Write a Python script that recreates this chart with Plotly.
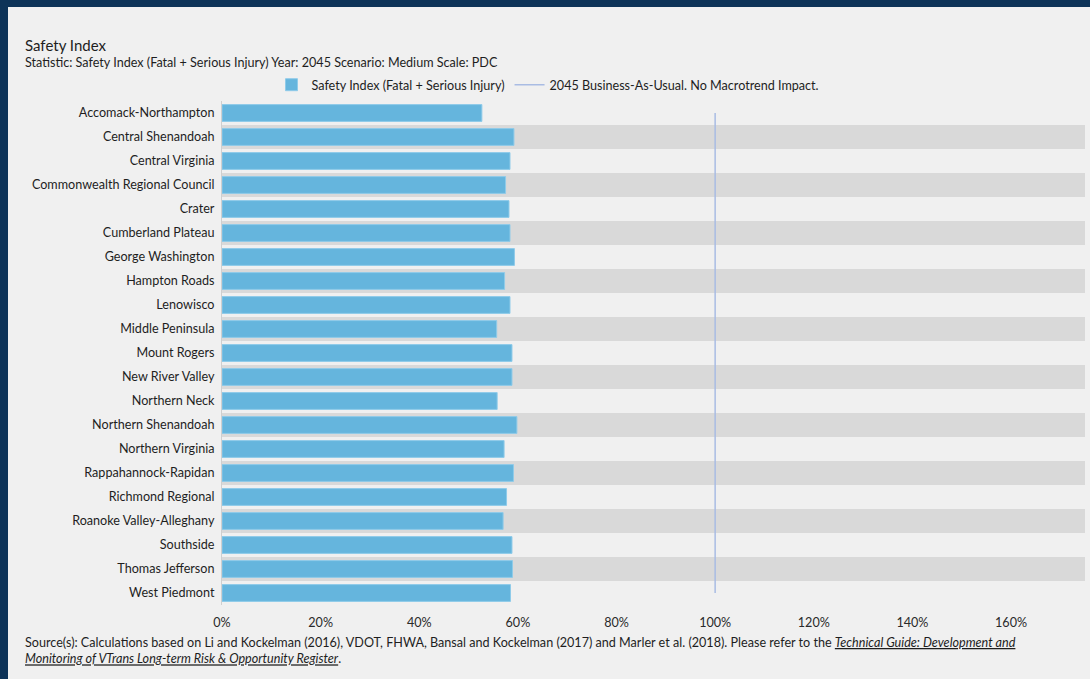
import plotly.graph_objects as go

regions = [
    "Accomack-Northampton", "Central Shenandoah", "Central Virginia",
    "Commonwealth Regional Council", "Crater", "Cumberland Plateau",
    "George Washington", "Hampton Roads", "Lenowisco", "Middle Peninsula",
    "Mount Rogers", "New River Valley", "Northern Neck", "Northern Shenandoah",
    "Northern Virginia", "Rappahannock-Rapidan", "Richmond Regional",
    "Roanoke Valley-Alleghany", "Southside", "Thomas Jefferson", "West Piedmont",
]
safety_index = [
    52.7, 59.2, 58.4, 57.5, 58.2, 58.4, 59.3, 57.3, 58.4, 55.7,
    58.8, 58.8, 55.8, 59.8, 57.2, 59.1, 57.7, 57.0, 58.8, 58.9, 58.5,
]
bau_value = 100
x_max = 175
x_ticks = [0, 20, 40, 60, 80, 100, 120, 140, 160]
x_tick_labels = [f"{v}%" for v in x_ticks]

W, H = 1090, 679
ML, MR, MT, MB = 222, 5, 101, 74
PW, PH = W - ML - MR, H - MT - MB


def px_x(p):
    return (p - ML) / PW


def px_y(p):
    return (H - MB - p) / PH


FONT = "Lato, 'Open Sans', sans-serif"
FS = 12.6
NAVY = "#0d3358"
PANEL = "#f0f0f0"
BAND = "#d9d9d9"
BAR = "#65b5dd"
LINE = "#a9bce3"

fig = go.Figure()
fig.add_trace(go.Bar(
    y=regions, x=safety_index, orientation="h",
    name="Safety Index (Fatal + Serious Injury)",
    marker=dict(color=BAR, line=dict(color="#8fcbe9", width=1)),
    hovertemplate="%{y}: %{x:.1f}%<extra></extra>",
))
fig.add_trace(go.Scatter(
    x=[bau_value, bau_value], y=[regions[0], regions[-1]], mode="lines",
    name="2045 Business-As-Usual. No Macrotrend Impact.",
    line=dict(color=LINE, width=1.5),
    hoverinfo="skip",
))

shapes = [dict(
    type="rect", xref="paper", yref="paper",
    x0=px_x(8), x1=px_x(W + 5), y0=px_y(H + 5), y1=px_y(7),
    fillcolor=PANEL, line=dict(width=0), layer="below",
)]
for i in range(1, len(regions), 2):
    shapes.append(dict(
        type="rect", xref="x", yref="y", x0=0, x1=x_max, y0=i - 0.5, y1=i + 0.5,
        fillcolor=BAND, line=dict(width=0), layer="below",
    ))

annotations = [
    dict(text="Safety Index", xref="paper", yref="paper", x=px_x(23), y=px_y(45),
         xanchor="left", yanchor="middle", showarrow=False,
         font=dict(family=FONT, size=15, color="#1e1e1e")),
    dict(text="Statistic: Safety Index (Fatal + Serious Injury) Year: 2045 Scenario: Medium Scale: PDC",
         xref="paper", yref="paper", x=px_x(23), y=px_y(62),
         xanchor="left", yanchor="middle", showarrow=False,
         font=dict(family=FONT, size=FS, color="#1e1e1e")),
    dict(text=("Source(s): Calculations based on Li and Kockelman (2016), VDOT, FHWA, Bansal and "
               "Kockelman (2017) and Marler et al. (2018). Please refer to the "
               "<i><u>Technical Guide: Development and</u></i><br>"
               "<i><u>Monitoring of VTrans Long-term Risk &amp; Opportunity Register</u></i>."),
         xref="paper", yref="paper", x=px_x(23), y=px_y(633),
         xanchor="left", yanchor="top", align="left", showarrow=False,
         font=dict(family=FONT, size=FS, color="#1e1e1e")),
]

fig.update_layout(
    width=W, height=H,
    margin=dict(l=ML, r=MR, t=MT, b=MB),
    paper_bgcolor=NAVY, plot_bgcolor="rgba(0,0,0,0)",
    font=dict(family=FONT, size=FS, color="#1e1e1e"),
    bargap=0.3,
    showlegend=True,
    legend=dict(orientation="h", x=px_x(548), xanchor="center",
                y=px_y(85), yanchor="middle", bgcolor="rgba(0,0,0,0)",
                itemwidth=30,
                font=dict(family=FONT, size=FS, color="#1e1e1e")),
    shapes=shapes,
    annotations=annotations,
    xaxis=dict(range=[0, x_max], tickmode="array", tickvals=x_ticks,
               ticktext=x_tick_labels,
               showgrid=False, zeroline=False, showline=False,
               ticklabelstandoff=8,
               tickfont=dict(family=FONT, size=FS, color="#2a2a2a")),
    yaxis=dict(range=[len(regions) - 0.5, -0.5], autorange=False,
               showgrid=False, zeroline=False,
               showline=True, linecolor="#cfcfcf", linewidth=1,
               ticklabelstandoff=4,
               tickfont=dict(family=FONT, size=FS, color="#1e1e1e")),
)

fig.write_html(
    "out.html",
    config={"displayModeBar": False},
    post_script="document.body.style.margin='0';document.body.style.background='#0d3358';",
)
